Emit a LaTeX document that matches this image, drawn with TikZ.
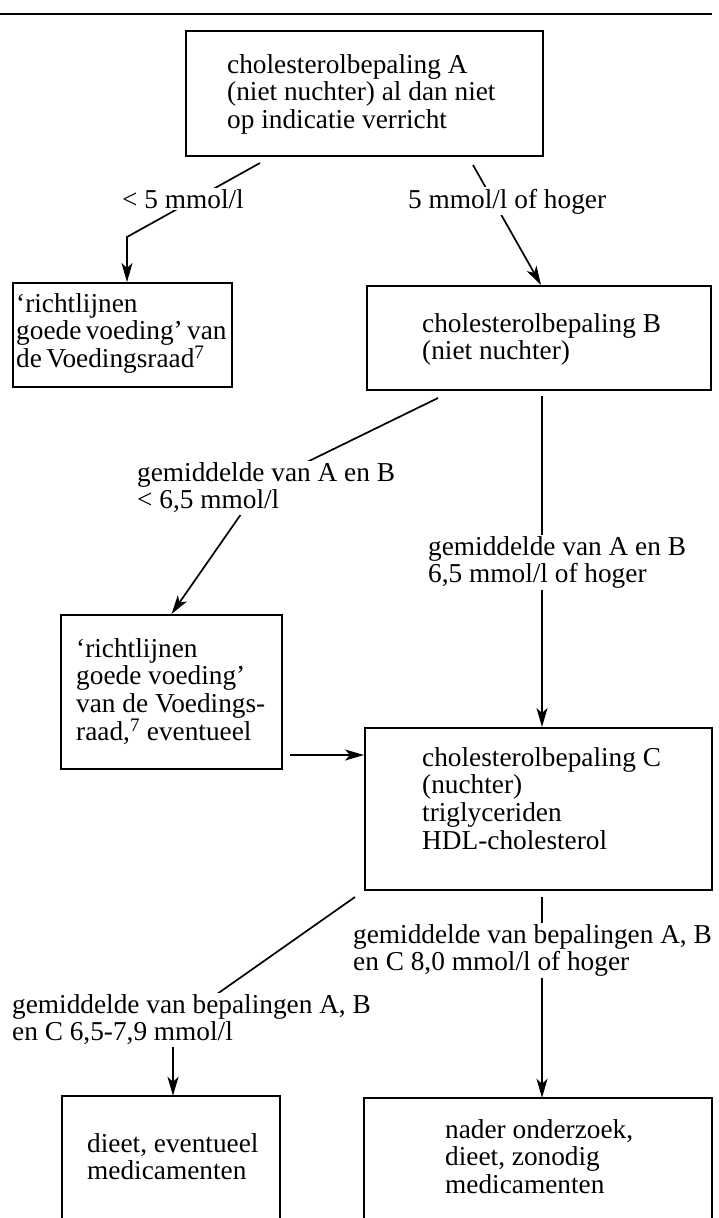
\documentclass[tikz,border=0pt]{standalone}
\usepackage{fontspec}
\setmainfont{Liberation Serif}
\usetikzlibrary{arrows.meta,calc}
\newcommand\dfont{\fontsize{27.3}{27.8}\selectfont}
\begin{document}
\begin{tikzpicture}[x=1pt,y=-1pt,
  box/.style={draw, line width=2pt, inner sep=0pt},
  openbox/.style={draw=none, inner sep=0pt},
  txt/.style={anchor=base west, align=left, inner sep=0pt, font=\dfont},
  tight/.style={font={\dfont\spaceskip=0.16em\relax}},
  lab/.style={anchor=base west, align=left, fill=white, inner sep=1.5pt, font=\dfont},
  conn/.style={line width=1.7pt},
  arr/.style={conn, -{Stealth[length=19pt,width=11pt,inset=5pt]}}]

\useasboundingbox (0,0) rectangle (718,1218);
\fill[white] (0,0) rectangle (718,1218);

% top rule
\draw[line width=2.2pt] (0,14) -- (712,14);

% boxes
\node[box, minimum width=357pt, minimum height=125pt] (A) at (364.5,93.5) {};
\node[box, minimum width=219pt, minimum height=104pt] (rich1) at (122.5,335) {};
\node[box, minimum width=344pt, minimum height=104pt] (B) at (539,338) {};
\node[box, minimum width=221pt, minimum height=154pt] (rich2) at (171.5,692) {};
\node[box, minimum width=347pt, minimum height=162pt] (C) at (538.5,809) {};
\node[openbox, minimum width=218pt, minimum height=134pt] (BL) at (171,1163) {};
\node[openbox, minimum width=348pt, minimum height=132pt] (BR) at (538,1164) {};
\draw[line width=2pt] (BL.south west) -- (BL.north west) -- (BL.north east) -- (BL.south east);
\draw[line width=2pt] (BR.south west) -- (BR.north west) -- (BR.north east) -- (BR.south east);

% box texts (anchored at the baseline of the last line)
\node[txt] (At) at (227,128.6) {cholesterolbepaling A\\(niet nuchter) al dan niet\\op indicatie verricht};
\node[txt] (Bt) at (422,359.8) {cholesterolbepaling B\\(niet nuchter)};
\node[txt, tight] (rich1t) at (16,367.6) {‘richtlijnen\\goede voeding’ van\\de Voedingsraad\textsuperscript{7}};
\node[txt] (rich2t) at (76,740.4) {‘richtlijnen\\goede voeding’\\van de Voedings-\\raad,\textsuperscript{7} eventueel};
\node[txt] (Ct) at (422,849.4) {cholesterolbepaling C\\(nuchter)\\triglyceriden\\HDL-cholesterol};
\node[txt] (BLt) at (87,1179.8) {dieet, eventueel\\medicamenten};
\node[txt] (BRt) at (445,1193.6) {nader onderzoek,\\dieet, zonodig\\medicamenten};

% connectors
\coordinate (a1) at (260,163);
\coordinate (k1) at (127,237);
\draw[arr] (a1) -- (k1) -- (k1 |- rich1.north);

\coordinate (a2) at (473,165);
\draw[arr] (a2) -- ($(B.north)+(2,0)$);

\coordinate (b1) at (438,398);
\coordinate (k2) at (262,484);
\draw[arr] (b1) -- (k2) -- (rich2.north);

\coordinate (b2) at (542,396);
\draw[arr] (b2) -- (b2 |- C.north);

\coordinate (r2) at (290,755);
\draw[arr] (r2) -- (r2 -| C.west);

\coordinate (c1) at (355,897);
\coordinate (k3) at (173,1025);
\draw[arr] (c1) -- (k3) -- (k3 |- BL.north);

\coordinate (c2) at (542,897);
\draw[arr] (c2) -- (c2 |- BR.north);

% labels (white background hides the line behind them)
\node[lab] (L1) at (120.5,208) {< 5 mmol/l};
\node[lab] (L2) at (406.5,208) {5 mmol/l of hoger};
\node[lab] (L3) at (135.5,508.8) {gemiddelde van A en B\\< 6,5 mmol/l};
\node[lab] (L4) at (426.5,582.8) {gemiddelde van A en B\\6,5 mmol/l of hoger};
\node[lab] (L5) at (351.5,970.8) {gemiddelde van bepalingen A, B\\en C 8,0 mmol/l of hoger};
\node[lab] (L6) at (10.5,1040.8) {gemiddelde van bepalingen A, B\\en C 6,5-7,9 mmol/l};
\end{tikzpicture}
\end{document}
